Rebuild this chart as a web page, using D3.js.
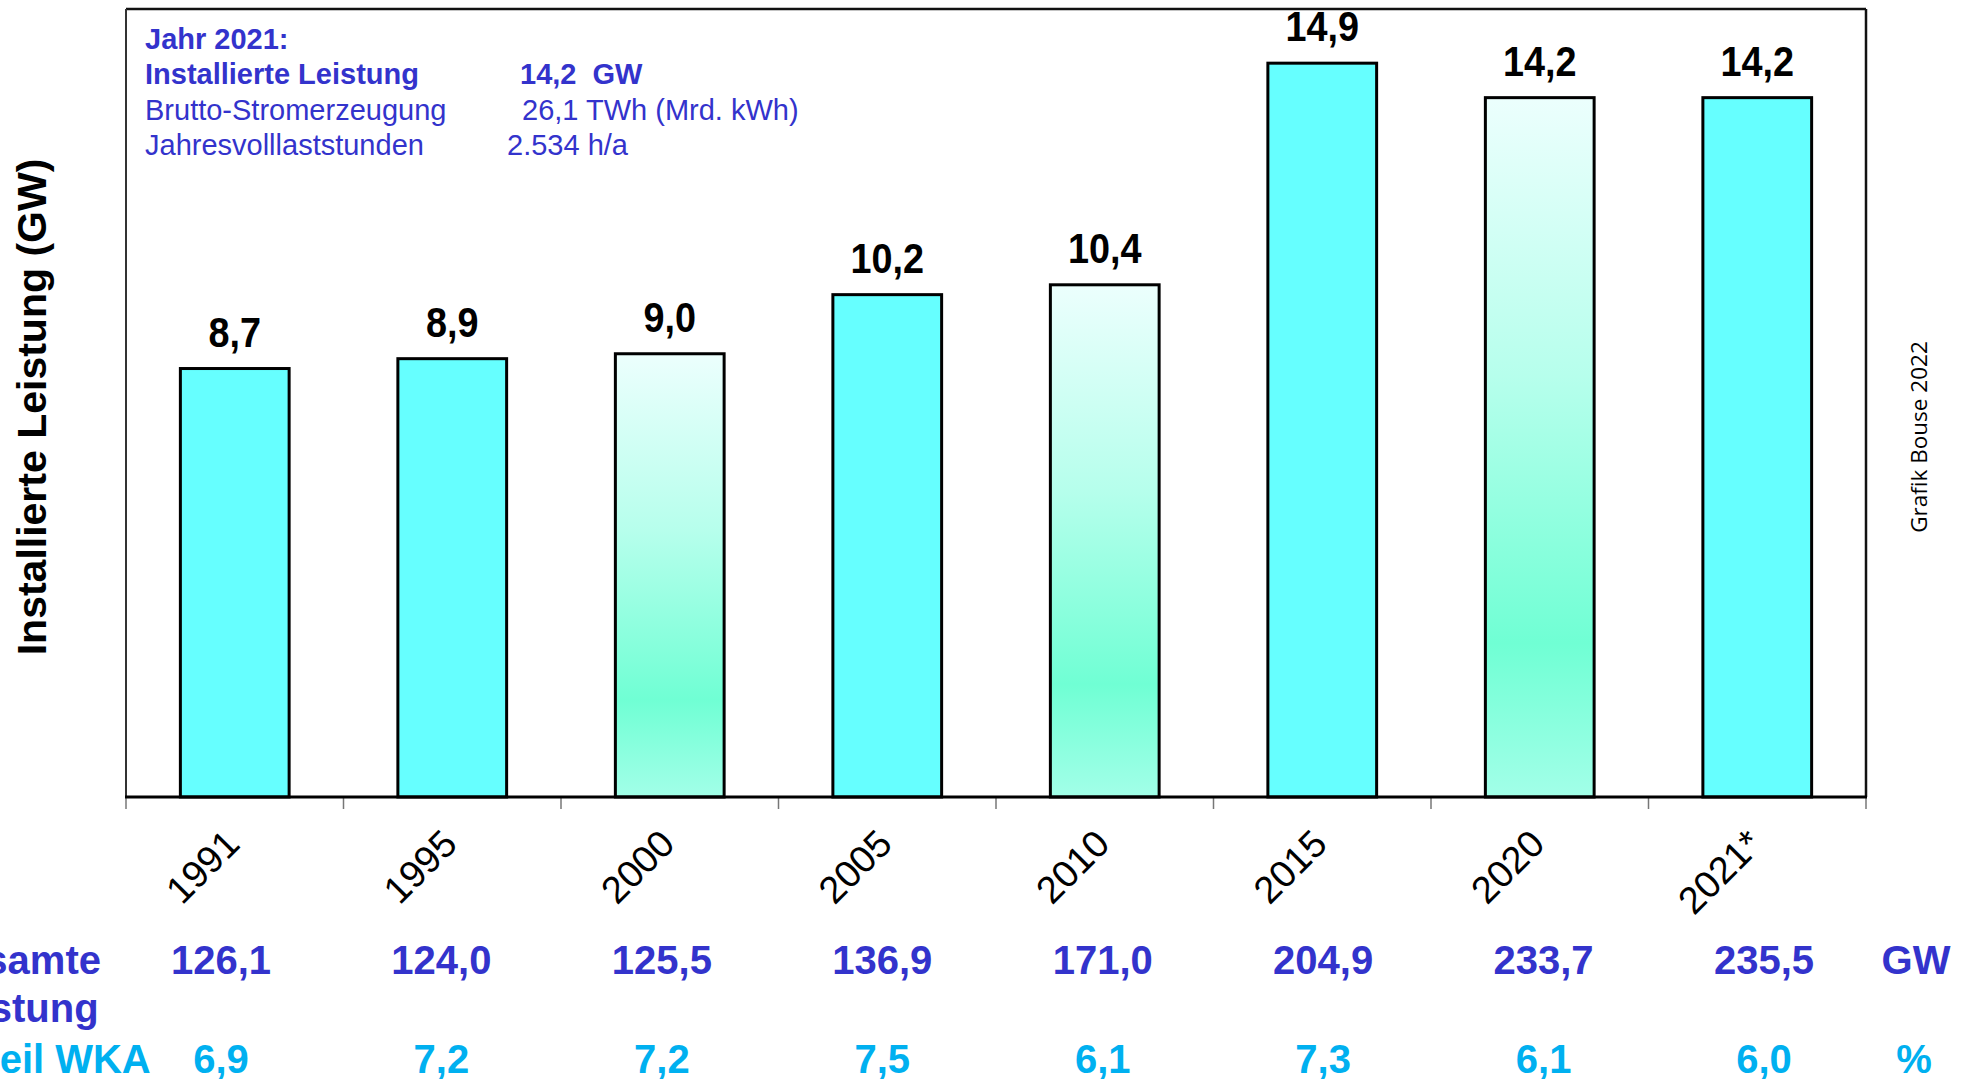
<!DOCTYPE html>
<html>
<head>
<meta charset="utf-8">
<script src="https://cdn.jsdelivr.net/npm/d3@7"></script>
<style>
  html, body { margin: 0; padding: 0; background: #ffffff; }
  svg { display: block; }
</style>
</head>
<body>
<svg id="chart" width="1973" height="1079"></svg>
<script>
// ---- data ----
const categories = ["1991", "1995", "2000", "2005", "2010", "2015", "2020", "2021*"];
const installed = [8.7, 8.9, 9.0, 10.2, 10.4, 14.9, 14.2, 14.2];
const installedLabels = ["8,7", "8,9", "9,0", "10,2", "10,4", "14,9", "14,2", "14,2"];
const gradientBars = ["2000", "2010", "2020"];
const totalCapacity = ["126,1", "124,0", "125,5", "136,9", "171,0", "204,9", "233,7", "235,5"];
const shareWKA = ["6,9", "7,2", "7,2", "7,5", "6,1", "7,3", "6,1", "6,0"];
const yDomain = [0, 16];
const infoLines = [
  { label: "Jahr 2021:", value: "", bold: true },
  { label: "Installierte Leistung", value: "14,2  GW", bold: true },
  { label: "Brutto-Stromerzeugung", value: "26,1 TWh (Mrd. kWh)", bold: false },
  { label: "Jahresvolllaststunden", value: "2.534 h/a", bold: false }
];

// ---- layout ----
const svg = d3.select("#chart");
const plot = { left: 126, right: 1866, top: 9, bottom: 797 };
const font = "'Liberation Sans', Arial, Helvetica, sans-serif";
const blue = "#3333CC";
const lightBlue = "#00B0F0";

const x = d3.scaleBand().domain(categories).range([plot.left, plot.right]).paddingInner(0.5).paddingOuter(0.25);
const y = d3.scaleLinear().domain(yDomain).range([plot.bottom, plot.top]);
const col = d3.scaleLinear().domain([0, categories.length - 1]).range([221, 1764]);

// gradient
const defs = svg.append("defs");
const grad = defs.append("linearGradient").attr("id", "mint").attr("x1", 0).attr("y1", 0).attr("x2", 0).attr("y2", 1);
[["0%", "#ECFFFD"], ["40%", "#B6FFEC"], ["78%", "#70FFD4"], ["100%", "#A2FFE8"]].forEach(s =>
  grad.append("stop").attr("offset", s[0]).attr("stop-color", s[1]));

// frame
svg.append("line").attr("x1", plot.left).attr("x2", plot.right).attr("y1", plot.top).attr("y2", plot.top)
  .attr("stroke", "#111").attr("stroke-width", 2.5);
svg.append("line").attr("x1", plot.right).attr("x2", plot.right).attr("y1", plot.top).attr("y2", plot.bottom)
  .attr("stroke", "#111").attr("stroke-width", 2.5);
svg.append("line").attr("x1", plot.left).attr("x2", plot.left).attr("y1", plot.top).attr("y2", plot.bottom)
  .attr("stroke", "#333").attr("stroke-width", 2);

// bars
svg.append("g").selectAll("rect").data(categories).join("rect")
  .attr("x", d => x(d))
  .attr("width", x.bandwidth())
  .attr("y", (d, i) => y(installed[i]))
  .attr("height", (d, i) => y(0) - y(installed[i]))
  .attr("fill", d => gradientBars.includes(d) ? "url(#mint)" : "#66FFFF")
  .attr("stroke", "#000").attr("stroke-width", 3);

// value labels (slightly condensed bold)
svg.append("g").selectAll("text").data(categories).join("text")
  .attr("transform", (d, i) => `translate(${x(d) + x.bandwidth() / 2},${y(installed[i]) - 22}) scale(0.9,1)`)
  .attr("text-anchor", "middle")
  .attr("font-family", font).attr("font-weight", "bold").attr("font-size", 42)
  .attr("fill", "#000")
  .text((d, i) => installedLabels[i]);

// x axis (labels from d3 axis)
const xAxis = d3.axisBottom(x).tickSizeInner(0).tickSizeOuter(0).tickPadding(0);
const gx = svg.append("g").attr("transform", `translate(0,${plot.bottom})`).call(xAxis);
gx.select(".domain").remove();
gx.selectAll(".tick text")
  .attr("font-family", font).attr("font-size", 38).attr("fill", "#000")
  .attr("text-anchor", "end")
  .attr("dy", 0).attr("y", 0)
  .attr("transform", "translate(7,49) rotate(-45)");

// tick marks at band boundaries
const boundaries = categories.map(c => x(c) - x.step() * x.paddingInner() / 2).concat([plot.right]);
svg.append("g").selectAll("line").data(boundaries).join("line")
  .attr("x1", d => d).attr("x2", d => d)
  .attr("y1", plot.bottom).attr("y2", plot.bottom + 12)
  .attr("stroke", "#777").attr("stroke-width", 1.5);

// baseline
svg.append("line").attr("x1", plot.left - 1).attr("x2", plot.right + 1).attr("y1", plot.bottom).attr("y2", plot.bottom)
  .attr("stroke", "#000").attr("stroke-width", 3);

// y axis title
svg.append("text")
  .attr("transform", `translate(46,407) rotate(-90)`)
  .attr("text-anchor", "middle")
  .attr("font-family", font).attr("font-weight", "bold").attr("font-size", 41)
  .attr("fill", "#000")
  .text("Installierte Leistung (GW)");

// info box text
const info = svg.append("g");
infoLines.forEach((l, i) => {
  const yy = 49 + i * 35.3;
  info.append("text").attr("x", 145).attr("y", yy)
    .attr("font-family", font).attr("font-size", 29)
    .attr("font-weight", l.bold ? "bold" : "normal").attr("fill", blue)
    .text(l.label);
  if (l.value) {
    info.append("text").attr("x", i === 3 ? 507 : (i === 2 ? 522 : 520)).attr("y", yy)
      .attr("font-family", font).attr("font-size", 29)
      .attr("font-weight", l.bold ? "bold" : "normal").attr("fill", blue)
      .attr("xml:space", "preserve").style("white-space", "pre")
      .text(l.value);
  }
});

// watermark
svg.append("text")
  .attr("transform", "translate(1927,437) rotate(-90)")
  .attr("text-anchor", "middle")
  .attr("font-family", "'Open Sans', 'Noto Sans', sans-serif").attr("font-size", 22.5)
  .attr("fill", "#000")
  .text("Grafik Bouse 2022");

// table rows
const table = svg.append("g").attr("font-family", font).attr("font-weight", "bold").attr("font-size", 40);
table.append("text").attr("x", -68).attr("y", 974).attr("fill", blue).text("Gesamte");
table.append("text").attr("x", -68).attr("y", 1022).attr("fill", blue).text("Leistung");
table.append("text").attr("x", -67).attr("y", 1073).attr("fill", lightBlue).text("Anteil WKA");

table.append("g").selectAll("text").data(totalCapacity).join("text")
  .attr("x", (d, i) => col(i)).attr("y", 974).attr("text-anchor", "middle")
  .attr("fill", blue).text(d => d);
table.append("g").selectAll("text").data(shareWKA).join("text")
  .attr("x", (d, i) => col(i)).attr("y", 1073).attr("text-anchor", "middle")
  .attr("fill", lightBlue).text(d => d);
table.append("text").attr("x", 1916).attr("y", 974).attr("text-anchor", "middle").attr("fill", blue).text("GW");
table.append("text").attr("x", 1914).attr("y", 1073).attr("text-anchor", "middle").attr("fill", lightBlue).text("%");
</script>
</body>
</html>
